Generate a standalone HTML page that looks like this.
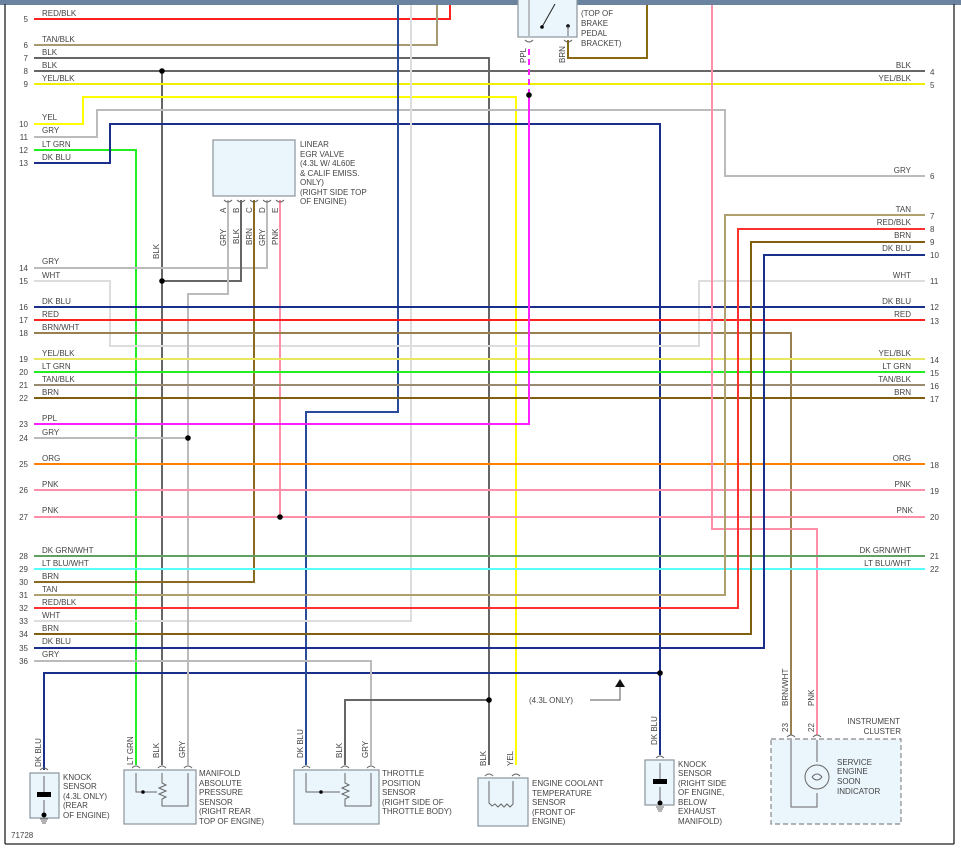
<!DOCTYPE html>
<html><head><meta charset="utf-8"><style>
html,body{margin:0;padding:0;background:#fff;}
svg{display:block;font-family:"Liberation Sans",sans-serif;}
text{font-size:8px;fill:#444;}
.n{text-anchor:end;}
.w{fill:none;stroke-width:2;}
.c{fill:none;stroke:#666;stroke-width:1;}
.b{fill:#eaf5fc;stroke:#8a949c;stroke-width:1.2;}
</style></head><body>
<svg width="961" height="853" viewBox="0 0 961 853" xmlns="http://www.w3.org/2000/svg">
<rect x="0" y="0" width="961" height="5" fill="#6a84a0"/>
<line x1="5" y1="4" x2="5" y2="844" stroke="#222" stroke-width="1.3"/>
<line x1="954" y1="4" x2="954" y2="844" stroke="#222" stroke-width="1.3"/>
<line x1="5" y1="844" x2="954" y2="844" stroke="#222" stroke-width="1.3"/>

<!-- wires -->
<polyline class="w" stroke="#ff2020" points="34,19 450,19 450,5"/>
<polyline class="w" stroke="#a89a70" points="34,45 437,45 437,5"/>
<polyline class="w" stroke="#666" points="34,58 489,58 489,765"/>
<polyline class="w" stroke="#666" points="34,71 925,71"/>
<polyline class="w" stroke="#666" points="162,71 162,765"/>
<polyline class="w" stroke="#eeee00" points="34,84 925,84"/>
<polyline class="w" stroke="#ffff00" points="34,124 83,124 83,97 516,97 516,765"/>
<polyline class="w" stroke="#bbb" points="34,137 97,137 97,110 725,110 725,176 925,176"/>
<polyline class="w" stroke="#22ee22" points="34,150 136,150 136,765"/>
<polyline class="w" stroke="#1a2f8a" points="34,163 110,163 110,124 660,124 660,755"/>
<polyline class="w" stroke="#1a2f8a" points="44,770 44,673 660,673"/>
<polyline class="w" stroke="#2a4a9a" points="398,5 398,412 306,412 306,765"/>
<polyline class="w" stroke="#ddd" points="34,621 411,621 411,5"/>
<polyline class="w" stroke="#bbb" points="34,268 267,268 267,200"/>
<polyline class="w" stroke="#ddd" points="34,281 110,281 110,346 699,346 699,281 925,281"/>
<polyline class="w" stroke="#666" points="162,281 241,281 241,200"/>
<polyline class="w" stroke="#bbb" points="228,200 228,294 188,294 188,765"/>
<polyline class="w" stroke="#8a6a20" points="34,582 254,582 254,200"/>
<polyline class="w" stroke="#ff8fa8" points="280,200 280,517"/>
<polyline class="w" stroke="#1a2f8a" points="34,307 925,307"/>
<polyline class="w" stroke="#ff2020" points="34,320 925,320"/>
<polyline class="w" stroke="#9a8050" points="34,333 791,333 791,735"/>
<polyline class="w" stroke="#e8e860" points="34,359 925,359"/>
<polyline class="w" stroke="#22ee22" points="34,372 925,372"/>
<polyline class="w" stroke="#9a8a70" points="34,385 925,385"/>
<polyline class="w" stroke="#806010" points="34,398 925,398"/>
<polyline class="w" stroke="#ff20ff" points="34,424 529,424 529,95"/>
<line x1="529" y1="95" x2="529" y2="45" stroke="#ff20ff" stroke-width="2" stroke-dasharray="6,4"/>
<polyline class="w" stroke="#bbb" points="34,438 188,438"/>
<polyline class="w" stroke="#ff8000" points="34,464 925,464"/>
<polyline class="w" stroke="#ff8fa8" points="34,490 925,490"/>
<polyline class="w" stroke="#ff8fa8" points="34,517 925,517"/>
<polyline class="w" stroke="#ff8fa8" points="712,5 712,529 817,529 817,735"/>
<polyline class="w" stroke="#60a060" points="34,556 925,556"/>
<polyline class="w" stroke="#55ffff" points="34,569 925,569"/>
<polyline class="w" stroke="#b0a070" points="34,595 725,595 725,215 925,215"/>
<polyline class="w" stroke="#ff3030" points="34,608 738,608 738,229 925,229"/>
<polyline class="w" stroke="#806010" points="34,634 751,634 751,242 925,242"/>
<polyline class="w" stroke="#1a2f8a" points="34,648 764,648 764,255 925,255"/>
<polyline class="w" stroke="#bbb" points="34,661 371,661 371,765"/>
<polyline class="w" stroke="#666" points="489,700 345,700 345,765"/>
<polyline class="w" stroke="#8a6a10" points="568,40 568,58 647,58 647,5"/>
<polyline fill="none" stroke="#555" stroke-width="1" points="590,700 620,700 620,686"/>
<polygon points="615,687 625,687 620,679" fill="#111"/>

<!-- dots -->
<g fill="#000">
<circle cx="162" cy="71" r="2.8"/><circle cx="162" cy="281" r="2.8"/>
<circle cx="529" cy="95" r="2.8"/><circle cx="188" cy="438" r="2.8"/>
<circle cx="280" cy="517" r="2.8"/><circle cx="660" cy="673" r="2.8"/>
<circle cx="489" cy="700" r="2.8"/>
</g>

<!-- left labels -->
<g>
<text x="42" y="16">RED/BLK</text><text x="42" y="42">TAN/BLK</text><text x="42" y="55">BLK</text>
<text x="42" y="68">BLK</text><text x="42" y="81">YEL/BLK</text><text x="42" y="120">YEL</text>
<text x="42" y="133">GRY</text><text x="42" y="147">LT GRN</text><text x="42" y="160">DK BLU</text>
<text x="42" y="264">GRY</text><text x="42" y="278">WHT</text><text x="42" y="304">DK BLU</text>
<text x="42" y="317">RED</text><text x="42" y="330">BRN/WHT</text><text x="42" y="356">YEL/BLK</text>
<text x="42" y="369">LT GRN</text><text x="42" y="382">TAN/BLK</text><text x="42" y="395">BRN</text>
<text x="42" y="421">PPL</text><text x="42" y="435">GRY</text><text x="42" y="461">ORG</text>
<text x="42" y="487">PNK</text><text x="42" y="513">PNK</text><text x="42" y="553">DK GRN/WHT</text>
<text x="42" y="566">LT BLU/WHT</text><text x="42" y="579">BRN</text><text x="42" y="592">TAN</text>
<text x="42" y="605">RED/BLK</text><text x="42" y="618">WHT</text><text x="42" y="631">BRN</text>
<text x="42" y="644">DK BLU</text><text x="42" y="657">GRY</text>
</g>
<g class="n">
<text class="n" x="28" y="22">5</text><text class="n" x="28" y="48">6</text><text class="n" x="28" y="61">7</text>
<text class="n" x="28" y="74">8</text><text class="n" x="28" y="87">9</text><text class="n" x="28" y="127">10</text>
<text class="n" x="28" y="140">11</text><text class="n" x="28" y="153">12</text><text class="n" x="28" y="166">13</text>
<text class="n" x="28" y="271">14</text><text class="n" x="28" y="284">15</text><text class="n" x="28" y="310">16</text>
<text class="n" x="28" y="323">17</text><text class="n" x="28" y="336">18</text><text class="n" x="28" y="362">19</text>
<text class="n" x="28" y="375">20</text><text class="n" x="28" y="388">21</text><text class="n" x="28" y="401">22</text>
<text class="n" x="28" y="427">23</text><text class="n" x="28" y="441">24</text><text class="n" x="28" y="467">25</text>
<text class="n" x="28" y="493">26</text><text class="n" x="28" y="520">27</text><text class="n" x="28" y="559">28</text>
<text class="n" x="28" y="572">29</text><text class="n" x="28" y="585">30</text><text class="n" x="28" y="598">31</text>
<text class="n" x="28" y="611">32</text><text class="n" x="28" y="624">33</text><text class="n" x="28" y="637">34</text>
<text class="n" x="28" y="651">35</text><text class="n" x="28" y="664">36</text>
</g>
<!-- right labels -->
<g>
<text class="n" x="911" y="68">BLK</text><text class="n" x="911" y="81">YEL/BLK</text><text class="n" x="911" y="173">GRY</text>
<text class="n" x="911" y="212">TAN</text><text class="n" x="911" y="225">RED/BLK</text><text class="n" x="911" y="238">BRN</text>
<text class="n" x="911" y="251">DK BLU</text><text class="n" x="911" y="278">WHT</text><text class="n" x="911" y="304">DK BLU</text>
<text class="n" x="911" y="317">RED</text><text class="n" x="911" y="356">YEL/BLK</text><text class="n" x="911" y="369">LT GRN</text>
<text class="n" x="911" y="382">TAN/BLK</text><text class="n" x="911" y="395">BRN</text><text class="n" x="911" y="461">ORG</text>
<text class="n" x="911" y="487">PNK</text><text class="n" x="913" y="513">PNK</text><text class="n" x="911" y="553">DK GRN/WHT</text>
<text class="n" x="911" y="566">LT BLU/WHT</text>
<text x="930" y="75">4</text><text x="930" y="88">5</text><text x="930" y="179">6</text>
<text x="930" y="219">7</text><text x="930" y="232">8</text><text x="930" y="245">9</text>
<text x="930" y="258">10</text><text x="930" y="284">11</text><text x="930" y="310">12</text>
<text x="930" y="324">13</text><text x="930" y="363">14</text><text x="930" y="376">15</text>
<text x="930" y="389">16</text><text x="930" y="402">17</text><text x="930" y="468">18</text>
<text x="930" y="494">19</text><text x="930" y="520">20</text><text x="930" y="559">21</text>
<text x="930" y="572">22</text>
</g>

<!-- brake switch -->
<rect class="b" x="518" y="-2" width="59" height="39"/>
<line x1="529" y1="0" x2="529" y2="36" stroke="#888"/>
<line x1="542" y1="27" x2="555" y2="4" stroke="#222"/><circle cx="542" cy="27" r="1.8"/><circle cx="568" cy="26" r="1.8"/>
<line x1="568" y1="26" x2="568" y2="36" stroke="#666"/>
<path class="c" d="M525,40 q4,4 8,0 M564,40 q4,4 8,0"/>
<text x="581" y="16">(TOP OF</text><text x="581" y="26">BRAKE</text><text x="581" y="36">PEDAL</text><text x="581" y="46">BRACKET)</text>
<text transform="translate(526,63) rotate(-90)">PPL</text>
<text transform="translate(565,63) rotate(-90)">BRN</text>

<!-- EGR -->
<rect class="b" x="213" y="140" width="82" height="56"/>
<path class="c" d="M224,200 q4,4 8,0 M237,200 q4,4 8,0 M250,200 q4,4 8,0 M263,200 q4,4 8,0 M276,200 q4,4 8,0"/>
<text x="300" y="147">LINEAR</text><text x="300" y="157">EGR VALVE</text><text x="300" y="166">(4.3L W/ 4L60E</text>
<text x="300" y="176">&amp; CALIF EMISS.</text><text x="300" y="185">ONLY)</text><text x="300" y="195">(RIGHT SIDE TOP</text><text x="300" y="204">OF ENGINE)</text>
<g>
<text transform="translate(226,213) rotate(-90)">A</text><text transform="translate(239,213) rotate(-90)">B</text>
<text transform="translate(252,213) rotate(-90)">C</text><text transform="translate(265,213) rotate(-90)">D</text>
<text transform="translate(278,213) rotate(-90)">E</text>
<text transform="translate(226,246) rotate(-90)">GRY</text><text transform="translate(239,244) rotate(-90)">BLK</text>
<text transform="translate(252,245) rotate(-90)">BRN</text><text transform="translate(265,246) rotate(-90)">GRY</text>
<text transform="translate(278,245) rotate(-90)">PNK</text>
<text transform="translate(159,259) rotate(-90)">BLK</text>
</g>

<!-- left knock -->
<rect class="b" x="30" y="773" width="29" height="45"/>
<path class="c" d="M40,770 q4,-4 8,0"/>
<line x1="44" y1="776" x2="44" y2="792" stroke="#666"/><rect x="37" y="792" width="14" height="5" fill="#000"/>
<line x1="44" y1="800" x2="44" y2="815" stroke="#666"/><circle cx="44" cy="815" r="2.5"/>
<path d="M40,819 h8 M41,821 h6 M42,823 h4" stroke="#666"/>
<text transform="translate(41,767) rotate(-90)">DK BLU</text>
<text x="63" y="780">KNOCK</text><text x="63" y="789">SENSOR</text><text x="63" y="799">(4.3L ONLY)</text><text x="63" y="808">(REAR</text><text x="63" y="818">OF ENGINE)</text>
<text x="11" y="838">71728</text>

<!-- MAP -->
<rect class="b" x="124" y="770" width="72" height="54"/>
<path class="c" d="M132,768 q4,-4 8,0 M158,768 q4,-4 8,0 M184,768 q4,-4 8,0"/>
<path class="c" d="M136,773 v19 h21 M162,773 v10 l4,2 -7,3 7,3 -7,3 7,3 -4,2 v7 h26 v-33"/>
<circle cx="143" cy="792" r="1.8"/>
<text transform="translate(133,765) rotate(-90)">LT GRN</text><text transform="translate(159,758) rotate(-90)">BLK</text><text transform="translate(185,758) rotate(-90)">GRY</text>
<text x="199" y="776">MANIFOLD</text><text x="199" y="786">ABSOLUTE</text><text x="199" y="795">PRESSURE</text><text x="199" y="805">SENSOR</text><text x="199" y="814">(RIGHT REAR</text><text x="199" y="824">TOP OF ENGINE)</text>

<!-- TPS -->
<rect class="b" x="294" y="770" width="85" height="54"/>
<path class="c" d="M302,768 q4,-4 8,0 M341,768 q4,-4 8,0 M367,768 q4,-4 8,0"/>
<path class="c" d="M306,773 v19 h34 M345,773 v10 l4,2 -7,3 7,3 -7,3 7,3 -4,2 v7 h26 v-33"/>
<circle cx="321" cy="792" r="1.8"/>
<text transform="translate(303,758) rotate(-90)">DK BLU</text><text transform="translate(342,758) rotate(-90)">BLK</text><text transform="translate(368,758) rotate(-90)">GRY</text>
<text x="382" y="776">THROTTLE</text><text x="382" y="786">POSITION</text><text x="382" y="795">SENSOR</text><text x="382" y="805">(RIGHT SIDE OF</text><text x="382" y="814">THROTTLE BODY)</text>

<!-- ECT -->
<rect class="b" x="478" y="778" width="50" height="48"/>
<path class="c" d="M485,776 q4,-4 8,0 M512,776 q4,-4 8,0"/>
<path class="c" d="M489,781 v22 l3,3 3,-2 3,3 3,-3 3,3 3,-3 3,3 3,-3 v-23"/>
<text transform="translate(486,766) rotate(-90)">BLK</text><text transform="translate(513,766) rotate(-90)">YEL</text>
<text x="532" y="786">ENGINE COOLANT</text><text x="532" y="796">TEMPERATURE</text><text x="532" y="805">SENSOR</text><text x="532" y="815">(FRONT OF</text><text x="532" y="824">ENGINE)</text>
<text x="529" y="703">(4.3L ONLY)</text>

<!-- right knock -->
<rect class="b" x="645" y="760" width="29" height="45"/>
<path class="c" d="M656,758 q4,-4 8,0"/>
<line x1="660" y1="763" x2="660" y2="779" stroke="#666"/><rect x="653" y="779" width="14" height="5" fill="#000"/>
<line x1="660" y1="787" x2="660" y2="803" stroke="#666"/><circle cx="660" cy="803" r="2.5"/>
<path d="M656,807 h8 M657,809 h6 M658,811 h4" stroke="#666"/>
<text transform="translate(657,745) rotate(-90)">DK BLU</text>
<text x="678" y="767">KNOCK</text><text x="678" y="776">SENSOR</text><text x="678" y="786">(RIGHT SIDE</text><text x="678" y="795">OF ENGINE,</text><text x="678" y="805">BELOW</text><text x="678" y="814">EXHAUST</text><text x="678" y="824">MANIFOLD)</text>

<!-- IC -->
<rect x="771" y="739" width="130" height="85" fill="#eaf5fc" stroke="#888" stroke-width="1.2" stroke-dasharray="5,3"/>
<path class="c" d="M787,737 q4,-4 8,0 M813,737 q4,-4 8,0"/>
<path class="c" d="M791,740 v67 h26 v-14 M817,740 v22"/>
<circle cx="817" cy="777" r="12" fill="none" stroke="#666"/>
<path class="c" d="M812,777 q5,-6 10,0 M812,777 q5,6 10,0"/>
<text transform="translate(788,732) rotate(-90)">23</text><text transform="translate(814,732) rotate(-90)">22</text>
<text transform="translate(788,706) rotate(-90)">BRN/WHT</text><text transform="translate(814,706) rotate(-90)">PNK</text>
<text class="n" x="900" y="724">INSTRUMENT</text><text class="n" x="901" y="734">CLUSTER</text>
<text x="837" y="765">SERVICE</text><text x="837" y="774">ENGINE</text><text x="837" y="784">SOON</text><text x="837" y="794">INDICATOR</text>
</svg>
</body></html>
